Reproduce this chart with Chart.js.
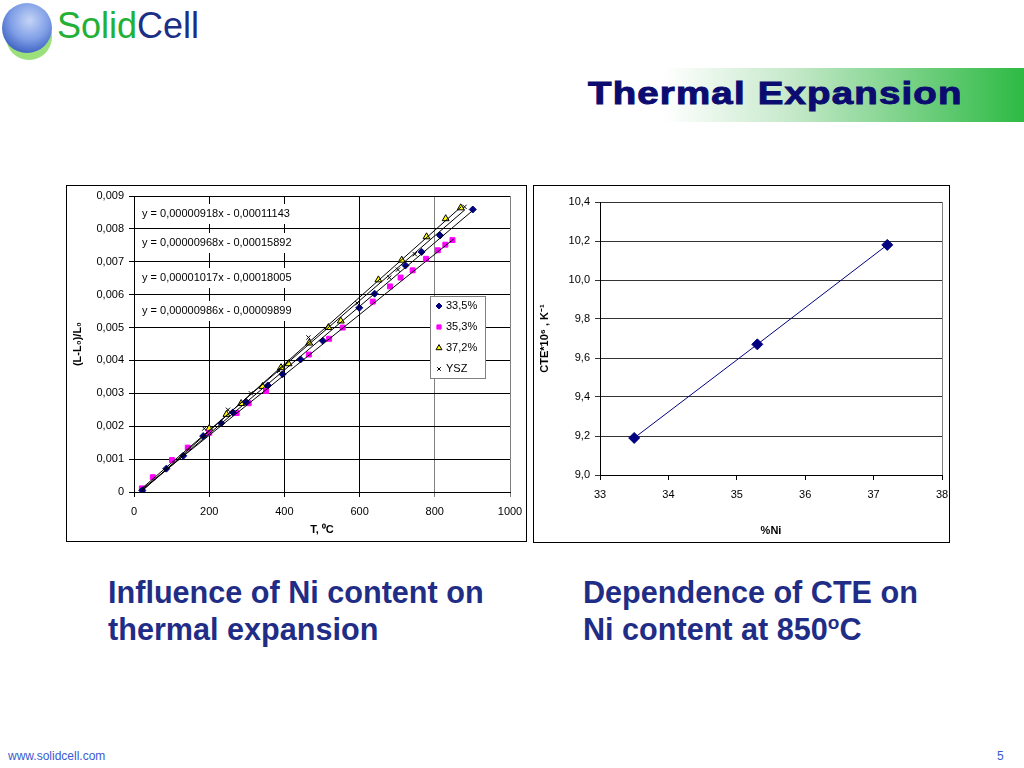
<!DOCTYPE html>
<html>
<head>
<meta charset="utf-8">
<script src="https://cdn.jsdelivr.net/npm/chart.js@4.4.0/dist/chart.umd.min.js"></script>
<style>
  body { margin: 0; background: #fff; font-family: "Liberation Sans", Arial, sans-serif; }
  #page { position: relative; width: 1024px; height: 768px; overflow: hidden; }
  .abs { position: absolute; }
  .frame { position: absolute; border: 1px solid #000; box-sizing: border-box; background: #fff; overflow: hidden; }
  .frame canvas { position: absolute; left: 0; top: 0; }
  .caption { color: #1f2d86; font-weight: bold; font-size: 30.6px; line-height: 37px; white-space: nowrap; }
</style>
</head>
<body>
<div id="page">
  <!-- logo -->
  <div class="abs" style="left:6px;top:14px;width:46px;height:46px;border-radius:50%;background:#9be07a;"></div>
  <div class="abs" style="left:2px;top:3px;width:50px;height:50px;border-radius:50%;
       background:radial-gradient(circle at 55% 35%, #c4d4f6 0%, #7f9ee6 45%, #3a5fc0 80%, #23449e 100%);"></div>
  <div class="abs" style="left:57px;top:4px;font-size:36px;line-height:44px;">
    <span style="color:#22b035">Solid</span><span style="color:#1c2f86">Cell</span>
  </div>

  <!-- title banner -->
  <div class="abs" style="left:600px;top:68px;width:424px;height:54px;
       background:linear-gradient(to right, #ffffff 0%, #ffffff 15%, #c6e9ca 45%, #2dba44 100%);"></div>
  <div class="abs" style="left:588px;top:73px;font-size:32px;line-height:40px;font-weight:bold;color:#0b0b70;
       letter-spacing:1px;transform:scaleX(1.2);transform-origin:left center;-webkit-text-stroke:1px #0b0b70;white-space:nowrap;">Thermal Expansion</div>

  <!-- charts -->
  <div class="frame" style="left:66px;top:185px;width:461px;height:357px;">
    <canvas id="expChart" width="459" height="355" style="width:459px;height:355px;"></canvas>
  </div>
  <div class="frame" style="left:533px;top:185px;width:417px;height:358px;">
    <canvas id="cteChart" width="415" height="356" style="width:415px;height:356px;"></canvas>
  </div>

  <!-- captions -->
  <div class="abs caption" style="left:108px;top:574px;">Influence of Ni content on<br>thermal expansion</div>
  <div class="abs caption" style="left:583px;top:574px;">Dependence of CTE on<br>Ni content at 850<sup style="font-size:19px;line-height:0;">o</sup>C</div>

  <!-- footer -->
  <div class="abs" style="left:8px;top:749px;font-size:12px;color:#3a5ad0;">www.solidcell.com</div>
  <div class="abs" style="left:997px;top:749px;font-size:12px;color:#3a5ad0;">5</div>
</div>

<script>
// ---- thermal expansion, (L-L0)/L0 vs T ----
const t335 = [22, 86, 131, 184, 232, 263, 298, 356, 395, 443, 502, 599, 640, 722, 765, 814, 901];
const v335 = [0.00005, 0.00071, 0.0011, 0.0017, 0.00209, 0.00242, 0.00274, 0.00324, 0.00358, 0.00403,
              0.0046, 0.0056, 0.00603, 0.00689, 0.0073, 0.0078, 0.00859];

const t353 = [21, 50, 101, 143, 200, 273, 305, 351, 465, 519, 555, 635, 681, 709, 741, 777, 808, 828, 847];
const v353 = [0.00011, 0.00045, 0.00097, 0.00135, 0.0018, 0.0024, 0.0027, 0.00307, 0.00418, 0.00466,
              0.005, 0.00579, 0.00625, 0.00652, 0.00674, 0.00709, 0.00735, 0.00752, 0.00766];

const t372 = [23, 200, 246, 285, 342, 391, 411, 466, 517, 550, 650, 712, 778, 829, 869];
const v372 = [0.00001, 0.00193, 0.00236, 0.00269, 0.00321, 0.00378, 0.0039, 0.00453, 0.005, 0.0052,
              0.00645, 0.00705, 0.00776, 0.00831, 0.00864];

const tYsz = [22, 187, 250, 311, 386, 464, 594, 679, 702, 747, 879];
const vYsz = [0.00003, 0.00193, 0.0025, 0.003, 0.00368, 0.0047, 0.00574, 0.00652, 0.00676, 0.00723, 0.00867];

// trendline end points
const trendT335 = [20, 900], trendV335 = [0.00003, 0.00855];
const trendT353 = [20, 850], trendV353 = [0.00007, 0.00769];
const trendT372 = [20, 870], trendV372 = [0.00002, 0.00867];
const trendTYsz = [20, 880], trendVYsz = [0.0001, 0.00858];

const equations = [
  'y = 0,00000918x - 0,00011143',
  'y = 0,00000968x - 0,00015892',
  'y = 0,00001017x - 0,00018005',
  'y = 0,00000986x - 0,00009899'
];

// ---- CTE vs Ni ----
const niContent = [33.5, 35.3, 37.2];
const cteValues = [9.19, 9.67, 10.18];

const pts = (xs, ys) => xs.map((x, i) => ({ x: x, y: ys[i] }));
const comma = (v, d) => v.toFixed(d).replace('.', ',');
const FONT = { family: '"Liberation Sans", Arial, sans-serif', size: 11 };
Chart.defaults.font.family = FONT.family;
Chart.defaults.color = '#000';

const trend = (xs, ys) => ({
  type: 'line', data: pts(xs, ys), borderColor: '#000', borderWidth: 1,
  pointRadius: 0, showLine: true, fill: false, isTrend: true
});

// equation boxes + floating legend
const expDecor = {
  id: 'expDecor',
  beforeDatasetsDraw(chart) {
    const c = chart.ctx, a = chart.chartArea;
    const rows = [18, 47, 82, 115];
    c.save();
    c.font = '11px ' + FONT.family;
    c.textBaseline = 'middle';
    equations.forEach((eq, i) => {
      const y = a.top + rows[i];
      c.fillStyle = '#fff';
      c.fillRect(a.left + 2, y - 10, 170, 20);
      c.fillStyle = '#000';
      c.fillText(eq, a.left + 8, y);
    });
    c.restore();
  },
  afterDraw(chart) {
    const c = chart.ctx, a = chart.chartArea;
    const bx = a.left + 296, by = a.top + 100, bw = 55, bh = 82;
    c.save();
    c.fillStyle = '#fff';
    c.fillRect(bx, by, bw, bh);
    c.strokeStyle = '#808080';
    c.lineWidth = 1;
    c.strokeRect(bx + 0.5, by + 0.5, bw, bh);
    c.font = '11px ' + FONT.family;
    c.textBaseline = 'middle';
    let row = 0;
    chart.data.datasets.forEach(ds => {
      if (ds.isTrend) return;
      const y = by + 10 + row * 21;
      c.fillStyle = ds.backgroundColor;
      c.strokeStyle = ds.borderColor;
      c.lineWidth = 1;
      Chart.helpers.drawPoint(c, {
        pointStyle: ds.pointStyle, radius: ds.pointRadius * 0.85, borderWidth: 1
      }, bx + 9, y);
      c.fillStyle = '#000';
      c.fillText(ds.label, bx + 16, y);
      row++;
    });
    c.restore();
  }
};

new Chart(document.getElementById('expChart'), {
  type: 'scatter',
  data: {
    datasets: [
      trend(trendT335, trendV335),
      trend(trendT353, trendV353),
      trend(trendT372, trendV372),
      trend(trendTYsz, trendVYsz),
      { label: '33,5%', data: pts(t335, v335), pointStyle: 'rectRot', pointRadius: 3.5,
        backgroundColor: '#000080', borderColor: '#000080', borderWidth: 1 },
      { label: '35,3%', data: pts(t353, v353), pointStyle: 'rect', pointRadius: 3.5,
        backgroundColor: '#ff00ff', borderColor: '#ff00ff', borderWidth: 1 },
      { label: '37,2%', data: pts(t372, v372), pointStyle: 'triangle', pointRadius: 4,
        backgroundColor: '#ffff00', borderColor: '#000', borderWidth: 1 },
      { label: 'YSZ', data: pts(tYsz, vYsz), pointStyle: 'crossRot', pointRadius: 3,
        backgroundColor: '#000', borderColor: '#000', borderWidth: 1 }
    ]
  },
  options: {
    responsive: false,
    animation: false,
    layout: { padding: { top: 10, right: 16, left: 0, bottom: 0 } },
    plugins: { legend: { display: false }, tooltip: { enabled: false } },
    scales: {
      x: {
        type: 'linear', min: 0, max: 1000,
        ticks: { stepSize: 200, font: FONT, padding: 8, maxRotation: 0, callback: v => String(v) },
        grid: { color: ctx => (ctx.tick && ctx.tick.value >= 800) ? '#808080' : '#000', tickLength: 5 },
        border: { color: '#000' },
        title: { display: true, text: 'T, \u2070C', font: { family: FONT.family, size: 11, weight: 'bold' }, padding: { top: 4 } },
        afterFit: s => { s.height = 49; s.paddingRight = 0; s.paddingLeft = 0; }
      },
      y: {
        min: 0, max: 0.009,
        ticks: { stepSize: 0.001, font: FONT, padding: 5, callback: v => v === 0 ? '0' : comma(v, 3) },
        grid: { color: '#000', tickLength: 5 },
        border: { color: '#000' },
        title: { display: true, text: '(L-L\u2080)/L\u2080', font: { family: FONT.family, size: 11, weight: 'bold' }, padding: { bottom: 0 } },
        afterFit: s => { s.width = 67; s.paddingTop = 0; s.paddingBottom = 0; }
      }
    }
  },
  plugins: [expDecor]
});

const rightBorder = {
  id: 'rightBorder',
  beforeDatasetsDraw(chart) {
    const c = chart.ctx, a = chart.chartArea;
    c.save();
    c.strokeStyle = '#808080';
    c.lineWidth = 1;
    c.beginPath();
    c.moveTo(a.right + 0.5, a.top);
    c.lineTo(a.right + 0.5, a.bottom);
    c.stroke();
    c.restore();
  }
};

new Chart(document.getElementById('cteChart'), {
  type: 'scatter',
  data: {
    datasets: [{
      label: 'CTE',
      data: pts(niContent, cteValues),
      showLine: true,
      borderColor: '#000080', borderWidth: 1,
      backgroundColor: '#000080',
      pointStyle: 'rectRot', pointRadius: 5.5
    }]
  },
  options: {
    responsive: false,
    animation: false,
    layout: { padding: { top: 16, right: 7, left: 0, bottom: 0 } },
    plugins: { legend: { display: false }, tooltip: { enabled: false } },
    scales: {
      x: {
        type: 'linear', min: 33, max: 38,
        ticks: { stepSize: 1, font: FONT, padding: 8, maxRotation: 0 },
        grid: { drawOnChartArea: false, color: '#000', tickLength: 5 },
        border: { color: '#000' },
        title: { display: true, text: '%Ni', font: { family: FONT.family, size: 11, weight: 'bold' }, padding: { top: 20 } },
        afterFit: s => { s.height = 67; s.paddingRight = 0; s.paddingLeft = 0; }
      },
      y: {
        min: 9, max: 10.4,
        ticks: { stepSize: 0.2, font: FONT, padding: 5, callback: v => comma(v, 1) },
        grid: { color: '#333', tickLength: 5 },
        border: { color: '#000' },
        title: { display: true, text: 'CTE*10\u2076 , K\u207B\u00B9', font: { family: FONT.family, size: 11, weight: 'bold' } },
        afterFit: s => { s.width = 66; s.paddingTop = 0; s.paddingBottom = 0; }
      }
    }
  },
  plugins: [rightBorder]
});
</script>
</body>
</html>
